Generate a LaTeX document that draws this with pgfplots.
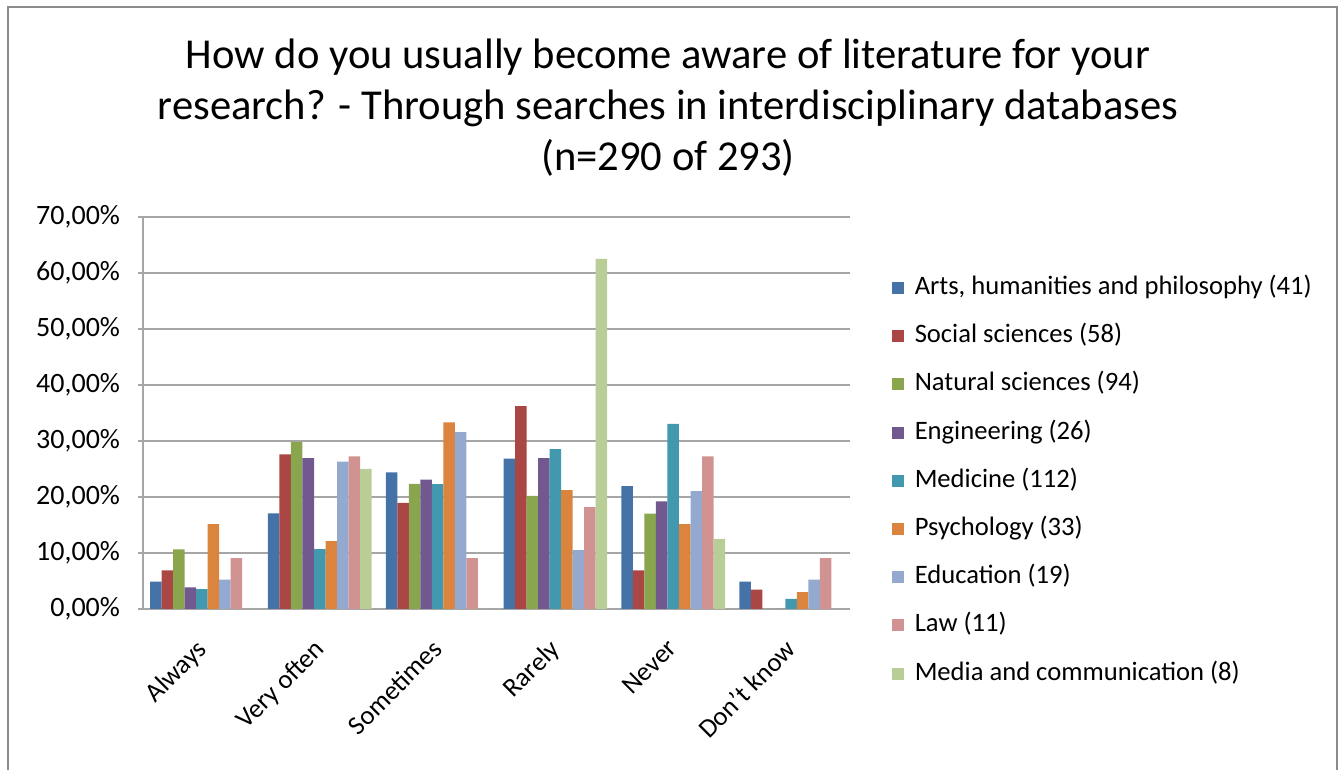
\documentclass[border=0pt]{standalone}
\usepackage{pgfplots}
\pgfplotsset{compat=1.18}
\usepackage{fontspec}
\setmainfont{Carlito}

\definecolor{cA}{HTML}{4572A7}
\definecolor{cB}{HTML}{AA4643}
\definecolor{cC}{HTML}{89A54E}
\definecolor{cD}{HTML}{71588F}
\definecolor{cE}{HTML}{4198AF}
\definecolor{cF}{HTML}{DB843D}
\definecolor{cG}{HTML}{93A9CF}
\definecolor{cH}{HTML}{D19392}
\definecolor{cI}{HTML}{B9CD96}
\definecolor{framegray}{HTML}{8C8C8C}
\definecolor{gridgray}{HTML}{A6A6A6}

\begin{document}
\begin{tikzpicture}
\path[use as bounding box] (0,0) rectangle (671.5pt,385pt);
\draw[framegray, line width=1pt] (4pt,-1pt) -- (4pt,381.5pt) -- (668.5pt,381.5pt) -- (668.5pt,-1pt);

\node[align=center, font=\fontsize{21.3}{25.5}\selectfont] at (334pt,331pt)
  {How do you usually become aware of literature for your\\
   research? - Through searches in interdisciplinary databases\\
   (n=290 of 293)};

\begin{axis}[
    at={(71.5pt,80.5pt)}, anchor=south west,
    scale only axis,
    width=353.5pt, height=196pt,
    xmin=-0.5, xmax=5.5,
    ymin=0, ymax=70,
    ybar=0pt, bar width=5.75pt,
    axis lines*=left,
    axis line style={gridgray, line width=0.8pt},
    ymajorgrids,
    grid style={gridgray, line width=0.8pt},
    ytick={0,10,...,70},
    yticklabels={{0,00\%},{10,00\%},{20,00\%},{30,00\%},{40,00\%},{50,00\%},{60,00\%},{70,00\%}},
    xtick={0,...,5},
    xticklabels={Always,Very often,Sometimes,Rarely,Never,Don't know},
    tick align=outside,
    major tick length=2.5pt,
    xtick style={draw=none},
    ytick style={gridgray, line width=0.8pt},
    yticklabel style={font=\fontsize{14}{16}\selectfont, xshift=-5.5pt},
    xticklabel style={font=\fontsize{13.3}{15}\selectfont, xshift=-3.5pt, yshift=-7pt, rotate=45, anchor=north east},
    legend style={
        at={(1.05,0.327)}, anchor=west, draw=none,
        font=\fontsize{13.3}{15}\selectfont,
        nodes={inner sep=0pt, text height=9.5pt, text depth=3pt},
        row sep=11.6pt,
        /tikz/every odd column/.style={column sep=5.5pt},
    },
    legend cell align=left,
    legend image code/.code={\fill[#1] (0pt,-3pt) rectangle (6pt,3pt);},
    every axis plot/.append style={draw=none},
]
\addplot[fill=cA] coordinates {(0,4.88) (1,17.07) (2,24.39) (3,26.83) (4,21.95) (5,4.88)};
\addplot[fill=cB] coordinates {(0,6.90) (1,27.59) (2,18.97) (3,36.21) (4,6.90) (5,3.45)};
\addplot[fill=cC] coordinates {(0,10.64) (1,29.79) (2,22.34) (3,20.21) (4,17.02) (5,0)};
\addplot[fill=cD] coordinates {(0,3.85) (1,26.92) (2,23.08) (3,26.92) (4,19.23) (5,0)};
\addplot[fill=cE] coordinates {(0,3.57) (1,10.71) (2,22.32) (3,28.57) (4,33.04) (5,1.79)};
\addplot[fill=cF] coordinates {(0,15.15) (1,12.12) (2,33.33) (3,21.21) (4,15.15) (5,3.03)};
\addplot[fill=cG] coordinates {(0,5.26) (1,26.32) (2,31.58) (3,10.53) (4,21.05) (5,5.26)};
\addplot[fill=cH] coordinates {(0,9.09) (1,27.27) (2,9.09) (3,18.18) (4,27.27) (5,9.09)};
\addplot[fill=cI] coordinates {(0,0) (1,25.00) (2,0) (3,62.50) (4,12.50) (5,0)};
\legend{{Arts, humanities and philosophy (41)},
        Social sciences (58),
        Natural sciences (94),
        Engineering (26),
        Medicine (112),
        Psychology (33),
        Education (19),
        Law (11),
        Media and communication (8)}
\end{axis}
\end{tikzpicture}
\end{document}
